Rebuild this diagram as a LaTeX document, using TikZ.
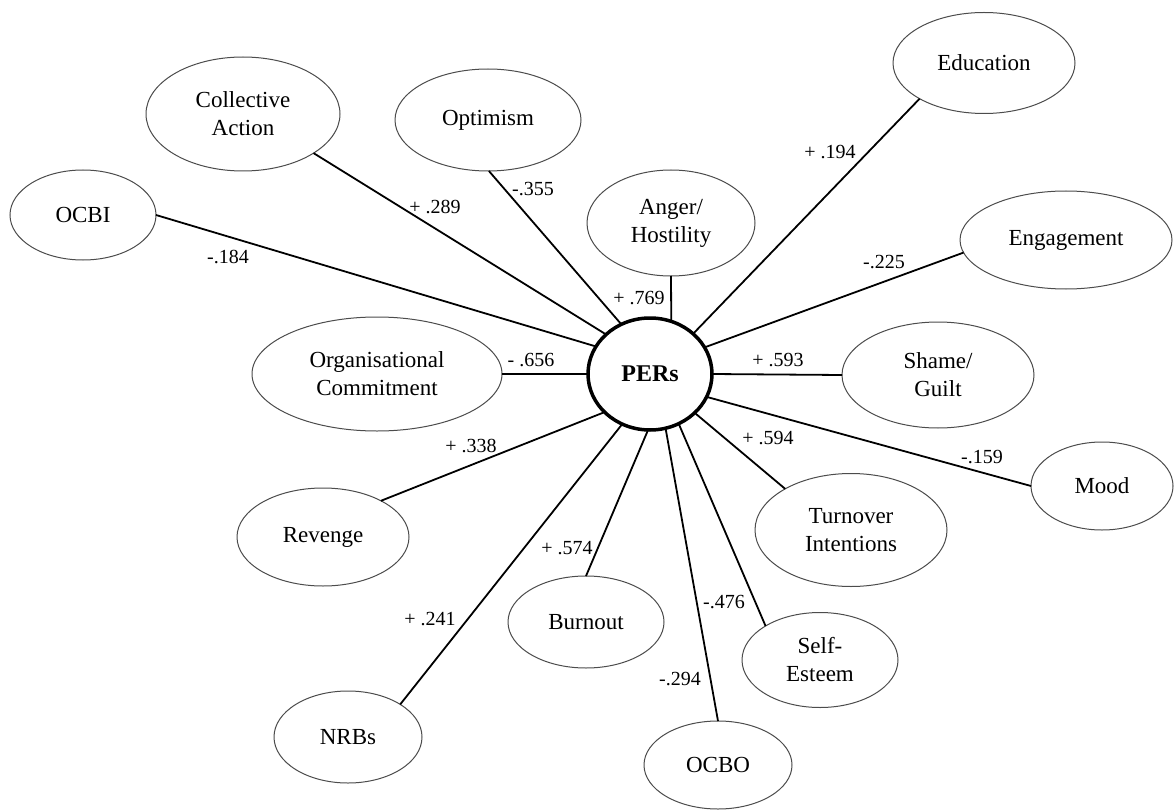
\documentclass[tikz,border=0pt]{standalone}
\usepackage{fontspec}
\setmainfont{Liberation Serif}
\usetikzlibrary{shapes.geometric}
\begin{document}
\begin{tikzpicture}[x=1pt,y=-1pt,
  var/.style={ellipse, draw=black!70, line width=1pt, inner sep=0pt, outer sep=0pt,
    align=center, font=\fontsize{23}{28}\selectfont},
  sz/.style 2 args={minimum width=#1pt, minimum height=#2pt},
  core/.style={ellipse, draw=black, line width=3.5pt, inner sep=0pt, outer sep=0pt,
    font=\fontsize{24}{28}\selectfont\bfseries, minimum width=124pt, minimum height=112pt},
  link/.style={line width=1.8pt, black},
  coef/.style={font=\fontsize{20}{24}\selectfont, inner sep=0pt}
]
\useasboundingbox (0,0) rectangle (1174,810);
\fill[white] (0,0) rectangle (1174,810);

% central construct
\node[core] (pers) at (650,374) {PERs};

% related constructs
\node[var, sz={146}{90}]  (ocbi)       at (83,215)   {OCBI};
\node[var, sz={194}{114}] (collective) at (243,114)  {Collective\\Action};
\node[var, sz={186}{102}] (optimism)   at (488,120)  {Optimism};
\node[var, sz={168}{106}] (anger)      at (671,223)  {Anger/\\Hostility};
\node[var, sz={182}{101}] (education)  at (984,63)   {Education};
\node[var, sz={212}{98}]  (engagement) at (1066,240) {Engagement};
\node[var, sz={250}{114}] (org)        at (377,374)  {Organisational\\Commitment};
\node[var, sz={192}{106}] (shame)      at (938,375)  {Shame/\\Guilt};
\node[var, sz={142}{88}]  (mood)       at (1102,486) {Mood};
\node[var, sz={192}{113}] (turnover)   at (851,530)  {Turnover\\Intentions};
\node[var, sz={156}{95}]  (selfesteem) at (820,660)  {Self-\\Esteem};
\node[var, sz={148}{88}]  (ocbo)       at (718,765)  {OCBO};
\node[var, sz={156}{92}]  (burnout)    at (586,622)  {Burnout};
\node[var, sz={148}{92}]  (nrbs)       at (348,737)  {NRBs};
\node[var, sz={172}{98}]  (revenge)    at (323,537)  {Revenge};

% paths
\draw[link] (ocbi.east)        -- (pers.153);
\draw[link] (collective.-29)   -- (pers.138);
\draw[link] (optimism.-89)     -- (pers.120);
\draw[link] (org.east)         -- (pers.west);
\draw[link] (anger.south)      -- (pers.68);
\draw[link] (education.-151)   -- (pers.43);
\draw[link] (engagement.-173.5)-- (pers.26);
\draw[link] (shame.west)       -- (pers.east);
\draw[link] (mood.west)        -- (pers.-22.5);
\draw[link] (turnover.148)     -- (pers.-41);
\draw[link] (selfesteem.148)   -- (pers.-60);
\draw[link] (ocbo.north)       -- (pers.-74);
\draw[link] (burnout.north)    -- (pers.-92);
\draw[link] (nrbs.32)          -- (pers.-119);
\draw[link] (revenge.32)       -- (pers.-140);

% coefficients
\node[coef] (k-ocbi)       at (228,257) {-.184};
\node[coef] (k-collective) at (435,207) {+ .289};
\node[coef] (k-optimism)   at (533,189) {-.355};
\node[coef] (k-anger)      at (639,298) {+ .769};
\node[coef] (k-education)  at (830,152) {+ .194};
\node[coef] (k-engagement) at (884,262) {-.225};
\node[coef] (k-org)        at (531,360) {- .656};
\node[coef] (k-shame)      at (778,360) {+ .593};
\node[coef] (k-turnover)   at (768,438) {+ .594};
\node[coef] (k-mood)       at (982,457) {-.159};
\node[coef] (k-revenge)    at (471,446) {+ .338};
\node[coef] (k-burnout)    at (567,548) {+ .574};
\node[coef] (k-nrbs)       at (430,619) {+ .241};
\node[coef] (k-selfesteem) at (724,602) {-.476};
\node[coef] (k-ocbo)       at (680,679) {-.294};
\end{tikzpicture}
\end{document}
